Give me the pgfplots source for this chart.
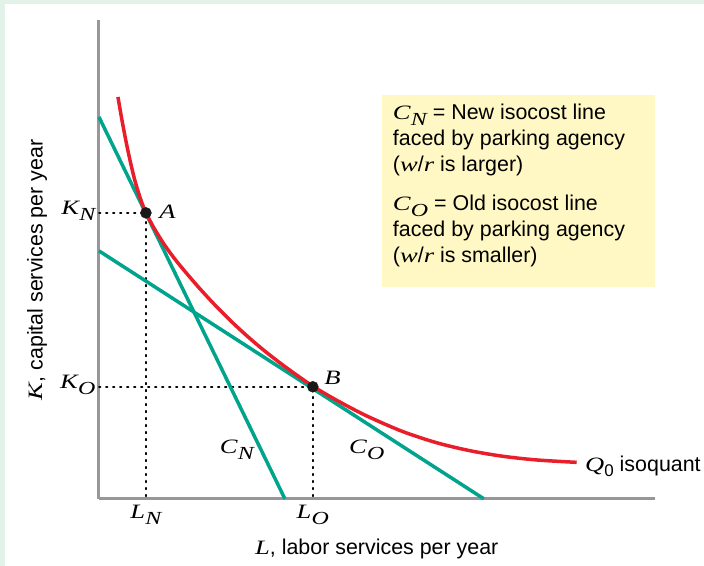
\documentclass[border=0pt]{standalone}
\usepackage{fontspec}
\setmainfont{Liberation Sans}
\newfontface\serifit{Liberation Serif Italic}[FakeStretch=1.3]
\usepackage{pgfplots}
\pgfplotsset{compat=1.18}

\definecolor{isored}{RGB}{232,30,42}
\definecolor{costteal}{RGB}{0,163,140}
\definecolor{axisgray}{RGB}{150,150,155}
\definecolor{notebox}{RGB}{255,248,196}
\definecolor{framegreen}{RGB}{227,242,232}

% italic serif symbol with an italic serif subscript
\newcommand{\var}[1]{{\fontsize{20.5}{26}\serifit #1}}
\newcommand{\sym}[2]{\var{#1}\kern0.3pt\raisebox{-6bp}{\fontsize{18.5}{18.5}\serifit #2}}

\begin{document}
\begin{tikzpicture}[font=\fontsize{21.5}{26}\selectfont]
\begin{axis}[
    set layers,
    width=556bp, height=479bp, scale only axis,
    xmin=0, xmax=556, ymin=0, ymax=479,
    axis lines=left,
    axis line style={-, line width=3bp, draw=axisgray},
    xtick={47,214}, xticklabels={\sym{L}{N},\sym{L}{O}},
    ytick={112,286}, yticklabels={\sym{K}{O},\sym{K}{N}},
    major tick length=0pt,
    xticklabel style={yshift=-3bp},
    yticklabel style={yshift=2bp},
    clip=false,
]
\begin{pgfonlayer}{axis background}
    \fill[framegreen] (axis cs:-99,-67) rectangle (axis cs:605,499);
    \fill[white] (axis cs:-94,-67) rectangle (axis cs:605,495);
\end{pgfonlayer}

% dotted guides to A and B
\addplot[black, line width=1.6bp, dash pattern=on 1.6bp off 5.4bp, line cap=round]
    coordinates {(0,286) (47,286) (47,0)};
\addplot[black, line width=1.6bp, dash pattern=on 1.6bp off 5.4bp, line cap=round]
    coordinates {(0,112) (214,112) (214,0)};

% isocost lines
\addplot[costteal, line width=3.5bp] coordinates {(0,382) (186,0)};
\addplot[costteal, line width=3.5bp] coordinates {(0,248) (385,0)};

% isoquant
\addplot[isored, line width=3.5bp, smooth] coordinates {
    (19,402) (23,379) (27,358) (31,339) (35,322) (39,308) (43,296) (47,286)
    (55,271) (64,256.4) (72,245) (81,233.5) (98,213.5) (114,196) (131,178.8)
    (148,163) (165,148.5) (181,136) (197,124.3) (214,112.6) (231,102.4)
    (251,91.4) (271,81.4) (304,67.2) (338,56) (371,48.1) (404,42.5) (438,38.8) (478,36.4)
};

% tangency points
\addplot[only marks, mark=*, mark size=5.5bp, black!90] coordinates {(47,286) (214,112)};

\node[anchor=west] at (axis cs:57,287) {\var{A}};
\node[anchor=west] at (axis cs:222,121) {\var{B}};
\node at (axis cs:138,49) {\sym{C}{N}};
\node at (axis cs:268,49) {\sym{C}{O}};
\node[anchor=west] at (axis cs:483,32) {\var{Q}\raisebox{-5bp}{\fontsize{17}{17}\selectfont 0} isoquant};

% note box
\fill[notebox] (axis cs:283,404) rectangle (axis cs:556,212);
\node[anchor=north west, align=left, inner sep=0pt] at (axis cs:294,395)
    {\sym{C}{N} = New isocost line\\faced by parking agency\\(\var{w}/\var{r} is larger)\\[13bp]%
     \sym{C}{O} = Old isocost line\\faced by parking agency\\(\var{w}/\var{r} is smaller)};

% axis titles
\node at (axis cs:278,-50) {\var{L}, labor services per year};
\node[rotate=90] at (axis cs:-62,229) {\var{K}, capital services per year};
\end{axis}
\end{tikzpicture}
\end{document}
